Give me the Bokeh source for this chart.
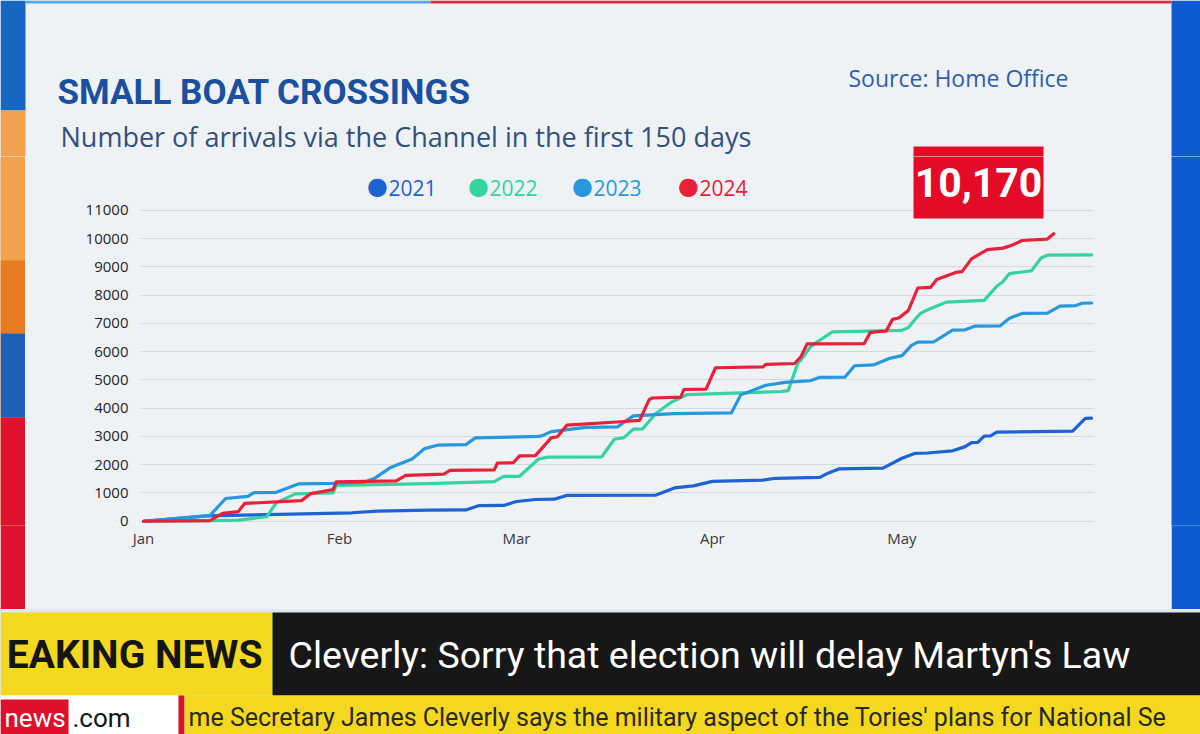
from bokeh.plotting import figure
from bokeh.layouts import row, column
from bokeh.models import Range1d, FixedTicker, Label, BoxAnnotation
from bokeh.embed import file_html
from bokeh.resources import INLINE

# ---------------- data (day of year, cumulative arrivals) ----------------
years = ["2021", "2022", "2023", "2024"]
colors = ["#1d63d3", "#34d39f", "#2898de", "#e8213b"]

days_2021 = [0, 10, 33, 37, 45, 51, 53, 57, 59, 62, 65, 67, 81, 84, 87, 90, 98, 100, 107, 108,
             110, 117, 120, 122, 124, 128, 130, 131, 132, 133, 134, 135, 147, 149, 150]
vals_2021 = [0, 190, 300, 355, 395, 400, 550, 560, 700, 770, 780, 915, 920, 1180, 1250, 1410, 1455, 1520, 1550, 1670,
             1850, 1880, 2230, 2400, 2415, 2490, 2640, 2780, 2790, 3010, 3020, 3150, 3190, 3640, 3645]

days_2022 = [0, 11, 15, 19.5, 21, 24, 30, 30.5, 45, 55.5, 57, 59.5, 62.5, 64, 72.5, 74.5, 76, 77.5, 79, 81,
             83.5, 86, 101, 102, 103.5, 104, 105.5, 106.5, 109, 120, 121, 122.5, 123, 124, 127, 133, 135, 136,
             137, 140.5, 142, 143, 150]
vals_2022 = [0, 20, 40, 160, 650, 970, 1000, 1270, 1330, 1400, 1590, 1590, 2200, 2270, 2280, 2900, 2960, 3260,
             3270, 3800, 4210, 4480, 4590, 4620, 5580, 5700, 6160, 6330, 6700, 6750, 6850, 7250, 7360, 7470,
             7750, 7810, 8310, 8480, 8760, 8860, 9310, 9410, 9420]

days_2023 = [0, 10.5, 13, 16.5, 17.5, 21, 24.5, 30, 35, 36.5, 39, 42.5, 44.5, 46.5, 51, 52.5, 62.5, 63, 64.5,
             70, 75, 77.5, 84, 93, 94.5, 98.5, 101.5, 105.5, 107, 111, 112.5, 115.5, 118, 120, 121.5, 122.5,
             125, 128, 130, 131.5, 135.5, 137, 139, 143, 145, 147.5, 148.5, 150]
vals_2023 = [0, 200, 805, 880, 1010, 1025, 1320, 1340, 1385, 1510, 1890, 2200, 2570, 2690, 2710, 2950, 3000,
             3020, 3170, 3320, 3340, 3730, 3810, 3830, 4470, 4810, 4910, 4970, 5090, 5100, 5500, 5530, 5760,
             5860, 6220, 6335, 6340, 6760, 6770, 6900, 6910, 7180, 7350, 7360, 7610, 7630, 7710, 7720]

days_2024 = [0, 10.5, 12.5, 15, 16, 25, 26.5, 30, 30.5, 40, 41.5, 47.5, 48.5, 55.5, 56, 58.5, 59.5, 62, 64.5,
             65.5, 67, 75.5, 78.5, 80, 80.5, 85, 85.5, 89, 90.5, 98, 98.5, 103, 104, 105, 114, 115, 117.5,
             118.5, 119.5, 121, 122.5, 124.5, 125.5, 128.5, 129.5, 131, 133.5, 136, 137.5, 139, 143, 144]
vals_2024 = [0, 20, 280, 340, 630, 730, 980, 1120, 1390, 1430, 1625, 1670, 1800, 1820, 2060, 2070, 2315, 2320,
             2950, 2990, 3400, 3520, 3570, 4300, 4360, 4390, 4660, 4670, 5430, 5460, 5550, 5580, 5810, 6275,
             6280, 6680, 6730, 7140, 7190, 7450, 8250, 8270, 8550, 8800, 8830, 9280, 9610, 9660, 9770, 9930,
             9980, 10170]

month_ticks = [0, 31, 59, 90, 120]
month_labels = ["Jan", "Feb", "Mar", "Apr", "May"]
y_ticks = [0, 1000, 2000, 3000, 4000, 5000, 6000, 7000, 8000, 9000, 10000, 11000]
y_tick_labels = ["0", "1000", "2000", "3000", "4000", "5000", "6000", "7000", "8000", "9000", "10000", "11000"]

title_text = "SMALL BOAT CROSSINGS"
subtitle_text = "Number of arrivals via the Channel in the first 150 days"
source_text = "Source: Home Office"
banner_label = "EAKING NEWS"
banner_headline = "Cleverly: Sorry that election will delay Martyn's Law"
ticker_text = "me Secretary James Cleverly says the military aspect of the Tories' plans for National Se"

series_days = [days_2021, days_2022, days_2023, days_2024]
series_vals = [vals_2021, vals_2022, vals_2023, vals_2024]

BG = "#eef2f5"
BOLD = "Roboto"
HEADER_H = 156


def blank(w, h, bg=BG, border=None):
    f = figure(width=w, height=h, output_backend="svg", toolbar_location=None,
               x_range=Range1d(0, w), y_range=Range1d(h, 0), min_border=0,
               x_axis_location=None, y_axis_location=None)
    f.grid.visible = False
    f.background_fill_color = bg
    f.border_fill_color = border or bg
    f.outline_line_color = None
    return f


def box(f, l, r, t, b, color):
    f.add_layout(BoxAnnotation(left=l, right=r, top=t, bottom=b,
                               left_units="canvas", right_units="canvas",
                               top_units="canvas", bottom_units="canvas",
                               fill_color=color, fill_alpha=1.0, line_color=None))


def label(f, x, y, text, size, color, font="Open Sans", style="normal", align="left"):
    # y is the vertical centre of the text's capitals
    f.add_layout(Label(x=x, y=y, x_units="canvas", y_units="canvas", text=text,
                       text_font=font, text_font_size=size, text_color=color,
                       text_font_style=style, text_align=align, text_baseline="middle"))


# ---------------- header (full width) ----------------
header = blank(1200, HEADER_H)
box(header, 0, 25, 0, 110, "#1766c2")
box(header, 0, 25, 110, HEADER_H + 2, "#f2a24f")
box(header, 1171, 1200, 0, HEADER_H + 2, "#0d5ad2")
box(header, 25, 430, 0, 3, "#5aa6ea")
box(header, 430, 1171, 0, 3, "#d93040")
label(header, 57, 92, title_text, "35px", "#1b4f9f", font=BOLD, style="bold")
label(header, 60, 136, subtitle_text, "27px", "#33507c")
label(header, 848, 77, source_text, "23px", "#2d5fae")
box(header, 913, 1043, 146, HEADER_H + 2, "#e30b25")

# ---------------- studio strips beside the chart ----------------
left = blank(25, 609 - HEADER_H, "#f2a24f", border="#e0122f")
box(left, 0, 25, 260 - HEADER_H, 333 - HEADER_H, "#e87a24")
box(left, 0, 25, 333 - HEADER_H, 417 - HEADER_H, "#1f5fb5")
box(left, 0, 25, 417 - HEADER_H, 612 - HEADER_H, "#e0122f")
right = blank(29, 609 - HEADER_H, "#0d5ad2")

# ---------------- main chart ----------------
p = figure(width=1146, height=609 - HEADER_H, output_backend="svg", toolbar_location=None,
           x_range=Range1d(-0.47, 150.3), y_range=Range1d(-150, 12901),
           min_border_left=115, min_border_right=78, min_border_top=0, min_border_bottom=84)
p.background_fill_color = BG
p.border_fill_color = BG
p.outline_line_color = None

p.xgrid.grid_line_color = None
p.ygrid.ticker = FixedTicker(ticks=y_ticks)
p.ygrid.grid_line_color = "#d3d9e0"
p.ygrid.grid_line_width = 1

p.xaxis.ticker = FixedTicker(ticks=month_ticks)
p.xaxis.major_label_overrides = {t: l for t, l in zip(month_ticks, month_labels)}
p.yaxis.ticker = FixedTicker(ticks=y_ticks)
p.yaxis.major_label_overrides = {t: l for t, l in zip(y_ticks, y_tick_labels)}
for ax in (p.xaxis, p.yaxis):
    ax.axis_line_color = None
    ax.major_tick_line_color = None
    ax.minor_tick_line_color = None
    ax.major_tick_in = 0
    ax.major_tick_out = 0
    ax.major_label_text_font = "Open Sans"
    ax.major_label_text_font_size = "15px"
    ax.major_label_text_color = "#262626"
p.yaxis.major_label_standoff = 12
p.xaxis.major_label_standoff = 2
p.xaxis.major_label_text_color = "#3a3a3a"

for d, v, c in zip(series_days, series_vals, colors):
    p.line(d, v, line_color=c, line_width=3.2, line_join="round", line_cap="round")

OX, OY = 25, HEADER_H   # offset of the chart figure on the page
legend_dot_x = [377, 478, 582, 688]
for x, yr, c in zip(legend_dot_x, years, colors):
    label(p, x - OX, 185 - OY, "\u25cf", "24px", c, font="DejaVu Sans", align="center")
    label(p, x + 11 - OX, 187 - OY, yr, "21px", c)

box(p, 913 - OX, 1043 - OX, -2, 218 - OY, "#e30b25")
label(p, 978 - OX, 182 - OY, f"{vals_2024[-1]:,}", "41px", "#ffffff", font=BOLD,
      style="bold", align="center")

# ---------------- news banner ----------------
banner = blank(1200, 125, "#dfe6ee")
box(banner, 0, 272, 3, 86, "#f3d91f")
box(banner, 272, 1200, 3, 86, "#171717")
box(banner, 0, 178, 86, 125, "#ffffff")
box(banner, 0, 68, 90, 125, "#e0102a")
box(banner, 178, 184, 86, 125, "#e0102a")
box(banner, 184, 1200, 86, 125, "#f4d820")
label(banner, 262, 45, banner_label, "39px", "#151515", font=BOLD, style="bold", align="right")
label(banner, 288, 45, banner_headline, "37.5px", "#ffffff", font=BOLD)
label(banner, 4, 108, "news", "26px", "#ffffff", font=BOLD)
label(banner, 72, 108, ".com", "26px", "#151515", font=BOLD)
label(banner, 188, 108, ticker_text, "25px", "#2a2a1a", font=BOLD)

layout = column(header, row(left, p, right, styles={"background-color": BG}),
                banner, styles={"background-color": BG})
open("out.html", "w").write(file_html(layout, INLINE))
